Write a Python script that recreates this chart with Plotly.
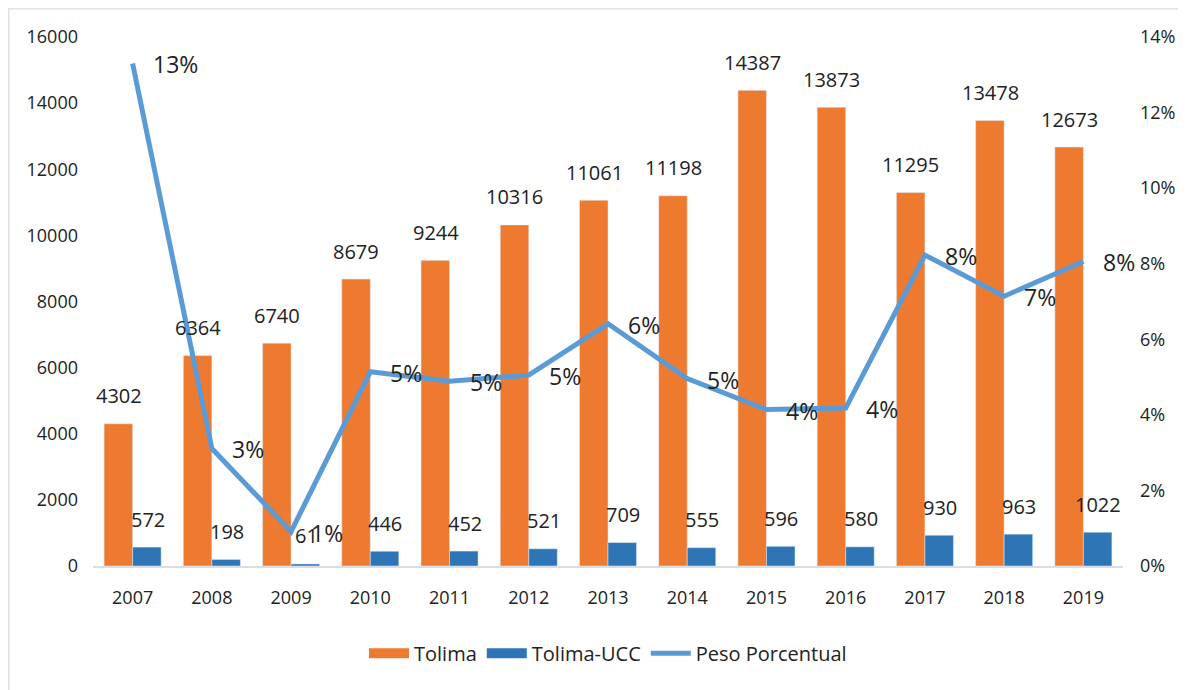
import plotly.graph_objects as go

years = ["2007", "2008", "2009", "2010", "2011", "2012", "2013",
         "2014", "2015", "2016", "2017", "2018", "2019"]
tolima = [4302, 6364, 6740, 8679, 9244, 10316, 11061, 11198, 14387, 13873, 11295, 13478, 12673]
tolima_ucc = [572, 198, 61, 446, 452, 521, 709, 555, 596, 580, 930, 963, 1022]
peso_pct = [13.30, 3.11, 0.91, 5.14, 4.89, 5.05, 6.41, 4.96, 4.14, 4.18, 8.23, 7.14, 8.06]

y_ticks = [0, 2000, 4000, 6000, 8000, 10000, 12000, 14000, 16000]
y2_ticks = [0, 2, 4, 6, 8, 10, 12, 14]

ORANGE = "#EE7A30"
BLUE = "#2E75B6"
LINE = "#5B9BD5"
TXT = "#222222"
FONT = "Open Sans, Liberation Sans, Arial, sans-serif"

fig = go.Figure()
fig.add_trace(go.Bar(x=years, y=tolima, name="Tolima", marker_color=ORANGE,
                     showlegend=False, offsetgroup="a"))
fig.add_trace(go.Bar(x=years, y=tolima_ucc, name="Tolima-UCC", marker_color=BLUE,
                     showlegend=False, offsetgroup="b"))
fig.add_trace(go.Scatter(x=years, y=peso_pct, name="Peso Porcentual", mode="lines",
                         line=dict(color=LINE, width=5), yaxis="y2", showlegend=False))

# legend entries
fig.add_trace(go.Scatter(x=[None], y=[None], mode="lines", name="Tolima",
                         line=dict(color=ORANGE, width=13)))
fig.add_trace(go.Scatter(x=[None], y=[None], mode="lines", name="Tolima-UCC",
                         line=dict(color=BLUE, width=13)))
fig.add_trace(go.Scatter(x=[None], y=[None], mode="lines", name="Peso Porcentual",
                         line=dict(color=LINE, width=5)))

annotations = []
for i, v in enumerate(tolima):
    annotations.append(dict(x=i, y=v, xref="x", yref="y", text=str(v), showarrow=False,
                            xshift=-14, yshift=28, yanchor="middle",
                            font=dict(size=20, color=TXT, family=FONT)))
for i, v in enumerate(tolima_ucc):
    annotations.append(dict(x=i, y=v, xref="x", yref="y", text=str(v), showarrow=False,
                            xshift=15, yshift=28, yanchor="middle",
                            font=dict(size=20, color=TXT, family=FONT)))
for i, v in enumerate(peso_pct):
    annotations.append(dict(x=i, y=v, xref="x", yref="y2", text=f"{round(v)}%",
                            showarrow=False, xanchor="left", yanchor="middle",
                            xshift=18, yshift=-1,
                            font=dict(size=23, color=TXT, family=FONT)))

fig.update_layout(
    width=1186, height=690,
    margin=dict(l=85, r=71, t=29, b=132),
    paper_bgcolor="white", plot_bgcolor="white",
    font=dict(family=FONT, size=18, color=TXT),
    barmode="group", bargap=0.28, bargroupgap=0,
    xaxis=dict(type="category", range=[-0.5, 12.5], showgrid=False,
               showline=True, linecolor="#D9DEE6", linewidth=2,
               ticks="", ticklabelstandoff=14, tickfont=dict(size=18)),
    yaxis=dict(range=[0, 16000], tickvals=y_ticks, ticktext=[str(t) for t in y_ticks],
               showgrid=False, zeroline=False,
               showline=False, ticks="", ticklabelstandoff=14, tickfont=dict(size=18)),
    yaxis2=dict(range=[0, 14], tickvals=y2_ticks, ticktext=[f"{t}%" for t in y2_ticks],
                overlaying="y", side="right", showgrid=False, zeroline=False,
                showline=False, ticks="", ticklabelstandoff=16, tickfont=dict(size=18)),
    legend=dict(orientation="h", x=0.5, xanchor="center", y=-0.165, yanchor="middle",
                font=dict(size=20), itemwidth=40, traceorder="normal"),
    annotations=annotations,
    shapes=[dict(type="rect", xref="paper", yref="paper",
                 x0=-0.082, x1=1.07, y0=-0.25, y1=1.054,
                 line=dict(color="#DCE1EA", width=2), layer="below")],
)

fig.write_html("out.html")
